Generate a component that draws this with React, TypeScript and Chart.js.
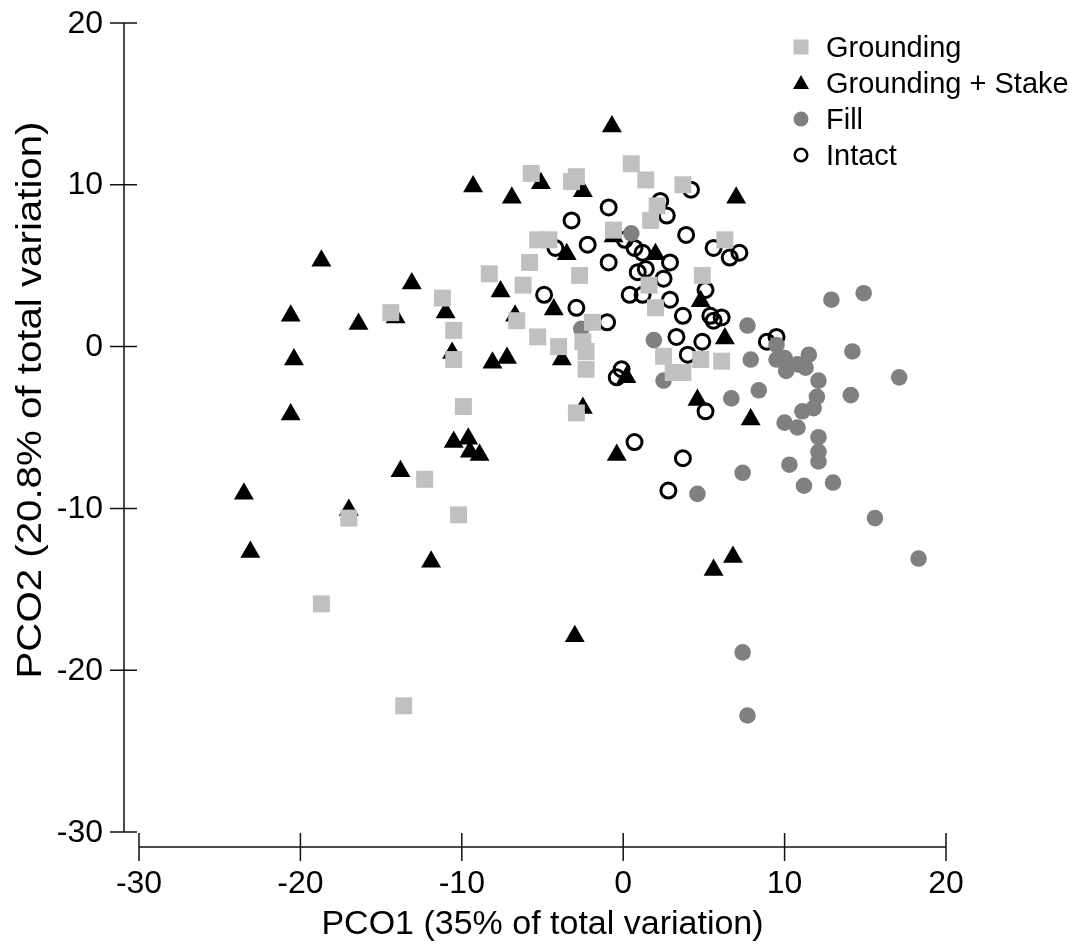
import React, { useEffect, useRef } from 'react';
import { Chart, registerables } from 'chart.js';

Chart.register(...registerables);

// ---------- data ----------
const seriesNames = ['Grounding', 'Grounding + Stake', 'Fill', 'Intact'];

const groundingX = [-5.7, -3.2, -2.9, 0.5, 1.4, 3.7, 2.1, 1.7, 6.3, -5.3, -4.6, -5.8, -8.3, -2.7, -6.2, 4.9, -11.2, -14.4, -10.5, -6.6, -5.3, -4.0, -2.5, -2.3, -2.3, -1.9, -10.5, -9.9, -2.9, -12.3, -17.0, -10.2, -18.7, -13.6, -0.6, 1.6, 2.0, 2.5, 4.8, 6.1, 3.1, 3.7];
const groundingY = [10.7, 10.2, 10.5, 11.3, 10.3, 10.0, 8.7, 7.8, 6.6, 6.6, 6.6, 5.2, 4.5, 4.4, 3.8, 4.4, 3.0, 2.1, 1.0, 1.6, 0.6, 0.0, 0.3, -0.3, -1.4, 1.5, -0.8, -3.7, -4.1, -8.2, -10.6, -10.4, -15.9, -22.2, 7.2, 3.8, 2.4, -0.6, -0.8, -0.9, -1.6, -1.6];

const stakeX = [-0.7, -9.3, -5.1, -6.9, -2.5, 7.0, -18.7, -13.1, -11.0, -20.6, -14.1, -16.4, -7.6, -6.7, -4.3, -0.6, -3.5, 2.0, -10.6, -20.4, -8.1, -7.2, -3.8, 0.2, 4.8, 6.3, -20.6, -10.5, -9.6, -9.5, -8.9, -13.8, -2.5, -0.4, 4.6, 7.9, -23.5, -17.0, -23.1, -11.9, 6.8, 5.6, -3.0];
const stakeY = [13.6, 9.9, 10.1, 9.2, 9.6, 9.2, 5.3, 3.9, 2.1, 1.9, 1.8, 1.4, 3.4, 1.9, 2.3, 6.8, 5.7, 5.7, -0.4, -0.8, -1.0, -0.7, -0.8, -1.9, 2.8, 0.5, -4.2, -5.9, -5.7, -6.5, -6.7, -7.7, -3.8, -6.7, -3.3, -4.5, -9.1, -10.1, -12.7, -13.3, -13.0, -13.8, -17.9];

const fillX = [0.5, -2.6, 1.9, 2.5, 7.7, 7.9, 6.7, 8.4, 4.6, 7.4, 7.7, 7.4, 10.3, 11.2, 13.0, 15.6, 18.3, 12.1, 12.1, 12.1, 10.0, 10.8, 11.1, 11.8, 12.0, 14.1, 12.1, 17.1, 14.2, 11.5, 10.1, 10.8, 11.3, 9.5, 9.5, 10.0, 12.9, 14.9];
const fillY = [7.0, 1.1, 0.4, -2.1, 1.3, -0.8, -3.2, -2.7, -9.1, -18.9, -22.8, -7.8, -7.3, -8.6, -8.4, -10.6, -13.1, -5.6, -6.5, -7.1, -4.7, -5.0, -4.0, -3.8, -3.1, -3.0, -2.1, -1.9, -0.3, -0.5, -1.5, -1.1, -1.3, 0.1, -0.8, -0.7, 2.9, 3.3];

const intactX = [-0.9, -3.2, 2.3, 2.7, 4.2, 3.9, 0.1, -2.2, -4.2, 0.7, 1.2, -0.9, 0.9, 1.4, 2.9, 5.6, 6.6, 7.2, 2.5, -4.9, -2.9, -1.0, 0.4, 1.2, 2.9, 5.1, 3.7, 5.4, 5.6, 6.1, 3.3, 4.9, 8.9, 9.5, 4.0, -0.4, -0.1, 0.7, 5.1, 3.7, 2.8];
const intactY = [8.6, 7.8, 9.0, 8.1, 9.7, 6.9, 6.6, 6.3, 6.1, 6.1, 5.8, 5.2, 4.6, 4.8, 5.2, 6.1, 5.5, 5.8, 4.2, 3.2, 2.4, 1.5, 3.2, 3.2, 2.9, 3.5, 1.9, 1.9, 1.6, 1.8, 0.6, 0.3, 0.3, 0.6, -0.5, -1.9, -1.4, -5.9, -4.0, -6.9, -8.9];

const xTicks = [-30, -20, -10, 0, 10, 20];
const yTicks = [20, 10, 0, -10, -20, -30];
const xTitle = 'PCO1 (35% of total variation)';
const yTitle = 'PCO2 (20.8% of total variation)';

// ---------- helpers ----------
const zip = (xs: number[], ys: number[]) => xs.map((x, i) => ({ x, y: ys[i] }));
const FONT = '"Liberation Sans", Arial, Helvetica, sans-serif';

const offsetAxesPlugin = {
  id: 'offsetAxes',
  afterDraw(chart: any) {
    const { ctx } = chart;
    const xs = chart.scales.x;
    const ys = chart.scales.y;
    const gap = 15;
    const axisX = xs.left - gap;
    const axisY = ys.bottom + gap;
    ctx.save();
    ctx.strokeStyle = '#111';
    ctx.fillStyle = '#000';
    ctx.lineWidth = 1.5;
    // y axis
    ctx.beginPath();
    ctx.moveTo(axisX, ys.getPixelForValue(yTicks[0]));
    ctx.lineTo(axisX, ys.getPixelForValue(yTicks[yTicks.length - 1]));
    yTicks.forEach((t) => {
      const p = ys.getPixelForValue(t);
      ctx.moveTo(axisX - 14, p);
      ctx.lineTo(axisX + 13, p);
    });
    // x axis
    ctx.moveTo(xs.getPixelForValue(xTicks[0]), axisY);
    ctx.lineTo(xs.getPixelForValue(xTicks[xTicks.length - 1]), axisY);
    xTicks.forEach((t) => {
      const p = xs.getPixelForValue(t);
      ctx.moveTo(p, axisY - 14);
      ctx.lineTo(p, axisY + 14);
    });
    ctx.stroke();

    // tick labels
    ctx.font = `32px ${FONT}`;
    ctx.textAlign = 'right';
    ctx.textBaseline = 'alphabetic';
    yTicks.forEach((t) => {
      ctx.fillText(String(t), axisX - 21, ys.getPixelForValue(t) + 9.5);
    });
    ctx.textAlign = 'center';
    xTicks.forEach((t) => {
      ctx.fillText(String(t), xs.getPixelForValue(t), axisY + 46);
    });

    // titles
    ctx.font = `34px ${FONT}`;
    ctx.fillText(xTitle, (xs.left + xs.right) / 2, axisY + 87);
    ctx.save();
    ctx.font = `35px ${FONT}`;
    ctx.translate(41, 400);
    ctx.rotate(-Math.PI / 2);
    ctx.scale(1.15, 1);
    ctx.textAlign = 'center';
    ctx.fillText(yTitle, 0, 0);
    ctx.restore();
    ctx.restore();
  },
};

const legendPlugin = {
  id: 'cornerLegend',
  afterDraw(chart: any) {
    const { ctx } = chart;
    const mx = 801;
    const tx = 826;
    const rows = [47, 83, 119, 155];
    ctx.save();
    ctx.font = `29px ${FONT}`;
    ctx.textAlign = 'left';
    ctx.textBaseline = 'middle';
    seriesNames.forEach((name, i) => {
      const cy = rows[i];
      ctx.beginPath();
      if (i === 0) {
        ctx.fillStyle = '#c0c0c0';
        ctx.fillRect(mx - 7.5, cy - 7.5, 15, 15);
      } else if (i === 1) {
        ctx.fillStyle = '#000';
        ctx.moveTo(mx, cy - 8);
        ctx.lineTo(mx + 8, cy + 6);
        ctx.lineTo(mx - 8, cy + 6);
        ctx.closePath();
        ctx.fill();
      } else if (i === 2) {
        ctx.fillStyle = '#808080';
        ctx.arc(mx, cy, 7.5, 0, Math.PI * 2);
        ctx.fill();
      } else {
        ctx.strokeStyle = '#000';
        ctx.lineWidth = 2.5;
        ctx.arc(mx, cy, 6.3, 0, Math.PI * 2);
        ctx.stroke();
      }
      ctx.fillStyle = '#000';
      ctx.fillText(name, tx, cy + 2);
    });
    ctx.restore();
  },
};

export default function App() {
  const canvasRef = useRef<HTMLCanvasElement | null>(null);

  useEffect(() => {
    const canvas = canvasRef.current;
    if (!canvas) return;
    const chart = new Chart(canvas, {
      type: 'scatter',
      data: {
        datasets: [
          {
            label: seriesNames[0],
            data: zip(groundingX, groundingY),
            pointStyle: 'rect',
            pointRadius: 12,
            backgroundColor: '#c0c0c0',
            borderColor: '#c0c0c0',
            borderWidth: 0,
          },
          {
            label: seriesNames[1],
            data: zip(stakeX, stakeY),
            pointStyle: 'triangle',
            pointRadius: 11.5,
            backgroundColor: '#000',
            borderColor: '#000',
            borderWidth: 0,
          },
          {
            label: seriesNames[2],
            data: zip(fillX, fillY),
            pointStyle: 'circle',
            pointRadius: 8.3,
            backgroundColor: '#808080',
            borderColor: '#808080',
            borderWidth: 0,
          },
          {
            label: seriesNames[3],
            data: zip(intactX, intactY),
            pointStyle: 'circle',
            pointRadius: 7.5,
            backgroundColor: 'rgba(0,0,0,0)',
            borderColor: '#000',
            borderWidth: 3,
          },
        ],
      },
      options: {
        responsive: false,
        animation: false,
        events: [],
        layout: { padding: { left: 139, right: 132, top: 23, bottom: 119 } },
        plugins: {
          legend: { display: false },
          tooltip: { enabled: false },
        },
        scales: {
          x: { type: 'linear', min: -30, max: 20, display: false },
          y: { type: 'linear', min: -30, max: 20, display: false },
        },
      },
      plugins: [offsetAxesPlugin, legendPlugin],
    } as any);
    return () => chart.destroy();
  }, []);

  return (
    <div style={{ position: 'absolute', left: 0, top: 0, width: 1078, height: 951, background: '#fff' }}>
      <canvas ref={canvasRef} width={1078} height={951} />
    </div>
  );
}
